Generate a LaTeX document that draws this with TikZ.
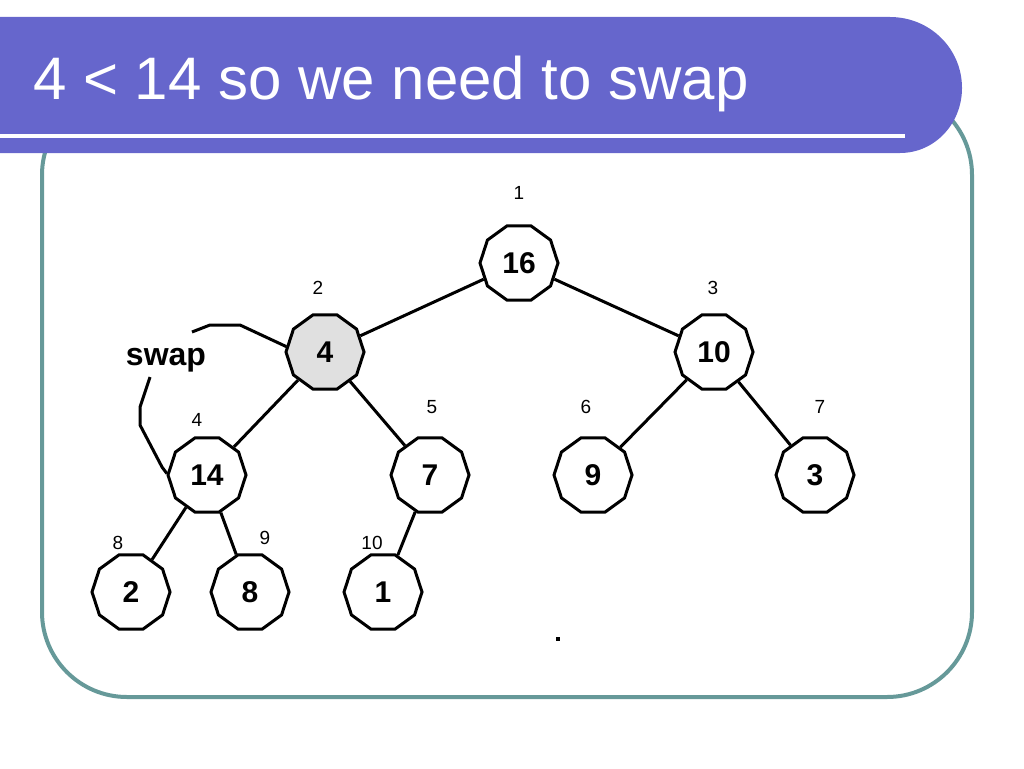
\documentclass[tikz,border=0pt]{standalone}
\usepackage{fontspec}
\setmainfont{Liberation Sans}
\usetikzlibrary{shapes.geometric}
\definecolor{barblue}{RGB}{102,102,204}
\definecolor{frameteal}{RGB}{102,153,153}
\definecolor{nodegray}{RGB}{224,224,224}
\begin{document}
\begin{tikzpicture}[x=1pt,y=-1pt,
  heapnode/.style={draw, line width=3pt, regular polygon, regular polygon sides=10,
    minimum size=78pt, inner sep=0pt, font=\fontsize{30}{30}\selectfont\bfseries},
  idx/.style={font=\fontsize{19}{19}\selectfont, inner sep=0pt},
  edge/.style={line width=3pt}]
\useasboundingbox (0,0) rectangle (1024,768);
% frame
\draw[frameteal, line width=4pt, rounded corners=85pt] (42,90) rectangle (972,697);
% title bar
\fill[barblue] (0,17) -- (890,17) to[out=0,in=90] (962,88) to[out=-90,in=0] (900,153) -- (0,153) -- cycle;
\draw[white, line width=4pt] (0,136) -- (905,136);
\node[anchor=base west, text=white, font=\fontsize{60}{60}\selectfont, inner sep=0pt] (title) at (33,99) {4 < 14 so we need to swap};
% nodes
\node[heapnode] (n16) at (519,263) {16};
\node[heapnode, fill=nodegray] (n4) at (325,352) {4};
\node[heapnode] (n10) at (714,352) {10};
\node[heapnode] (n14) at (207,475) {14};
\node[heapnode] (n7) at (430,475) {7};
\node[heapnode] (n9) at (593,475) {9};
\node[heapnode] (n3) at (815,475) {3};
\node[heapnode] (n2) at (131,592) {2};
\node[heapnode] (n8) at (250,592) {8};
\node[heapnode] (n1) at (383,592) {1};
% index labels
\node[idx] (i1) at (519,193) {1};
\node[idx] (i2) at (318,288) {2};
\node[idx] (i3) at (713,288) {3};
\node[idx] (i4) at (197,420) {4};
\node[idx] (i5) at (432,407) {5};
\node[idx] (i6) at (586,407) {6};
\node[idx] (i7) at (820,407) {7};
\node[idx] (i8) at (118,543) {8};
\node[idx] (i9) at (265,538) {9};
\node[idx] (i10) at (372,543) {10};
% edges
\draw[edge] (n16) -- (n4);
\draw[edge] (n16) -- (n10);
\draw[edge] (n4) -- (n14);
\draw[edge] (n4) -- (n7);
\draw[edge] (n10) -- (n9);
\draw[edge] (n10) -- (n3);
\draw[edge] (n14) -- (n2);
\draw[edge] (n14) -- (n8);
\draw[edge] (n7) -- (n1);
% swap annotation
\node[anchor=base, font=\fontsize{32}{32}\selectfont\bfseries, inner sep=0pt] (swap) at (166,365) {swap};
\coordinate (sa) at (192,332);
\coordinate (sb) at (150,377);
\draw[edge] (sa) -- (210,325) -- (240,325) -- (n4.172);
\draw[edge] (sb) -- (140,407) -- (140,425) -- (162,467) -- (n14.178);
% stray mark
\fill (556,637) rectangle (560,641);
\end{tikzpicture}
\end{document}
